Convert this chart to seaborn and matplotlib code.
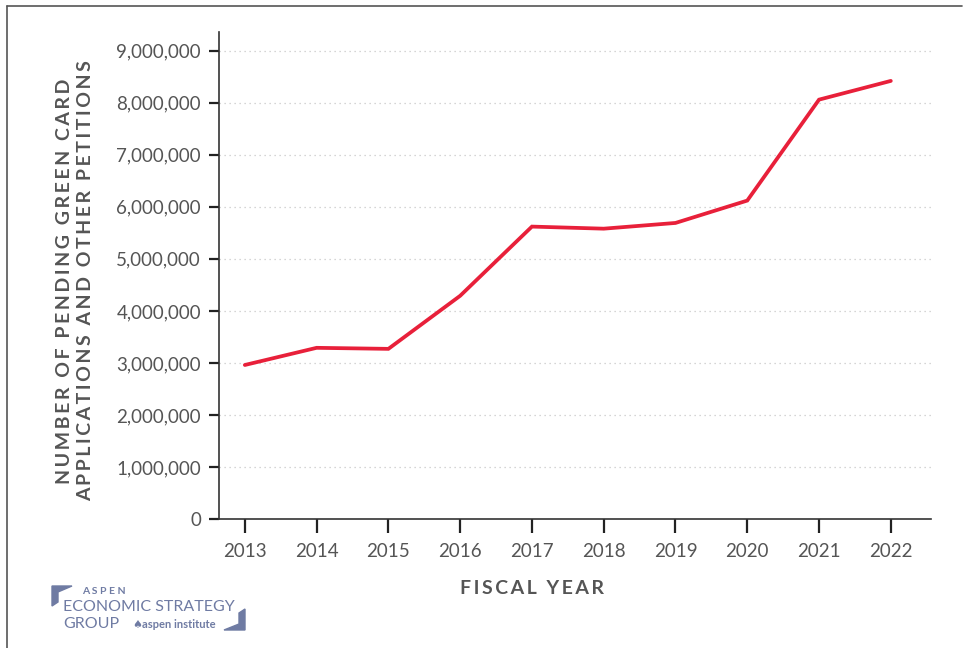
import matplotlib
matplotlib.use("Agg")
import matplotlib.pyplot as plt
import seaborn as sns
import pandas as pd
from matplotlib.ticker import FuncFormatter
from matplotlib.patches import Polygon

years = [2013, 2014, 2015, 2016, 2017, 2018, 2019, 2020, 2021, 2022]
pending = [2960000, 3290000, 3270000, 4290000, 5620000, 5580000, 5690000, 6120000, 8060000, 8420000]
y_ticks = [0, 1000000, 2000000, 3000000, 4000000, 5000000, 6000000, 7000000, 8000000, 9000000]

df = pd.DataFrame({"year": years, "pending": pending})

sns.set_theme(style="white")
plt.rcParams['font.family'] = ['Lato', 'DejaVu Sans']

def spaced(s, sep="\u2009"):
    return sep.join(list(s))

fig = plt.figure(figsize=(9.63, 6.48), dpi=100)
ax = fig.add_axes([219/963, 1-519/648, (931-219)/963, (519-32)/648])

sns.lineplot(data=df, x="year", y="pending", ax=ax, color="#e8203a", linewidth=2.7,
             solid_capstyle="round", solid_joinstyle="miter")

ax.set_xlim(2012.64, 2022.56)
ax.set_ylim(0, 9360000)
ax.set_yticks(y_ticks)
ax.set_xticks(years)
ax.yaxis.set_major_formatter(FuncFormatter(lambda v, p: f"{int(v):,}"))

for t in y_ticks[1:]:
    ax.axhline(t, color="#c8c8c8", linestyle=(0, (1, 3)), linewidth=0.9, zorder=0)

for s in ["top", "right"]:
    ax.spines[s].set_visible(False)
for s in ["left", "bottom"]:
    ax.spines[s].set_color("#333333")
    ax.spines[s].set_linewidth(1.2)

ax.tick_params(axis="y", direction="out", length=7, width=1.6, color="#222222",
               labelsize=13.5, labelcolor="#555555", pad=6, left=True)
ax.tick_params(axis="x", direction="out", length=10, width=1.6, color="#222222",
               labelsize=13.5, labelcolor="#555555", pad=7, bottom=True)

ax.set_xlabel("")
ax.set_ylabel("")
fig.text(532/963, 1-588/648, spaced("FISCAL YEAR"), fontsize=14, fontweight="bold",
         color="#555555", ha="center", va="center")
fig.text(75/963, 1-281/648,
         spaced("NUMBER OF PENDING GREEN CARD") + "\n" + spaced("APPLICATIONS AND OTHER PETITIONS"),
         fontsize=14, fontweight="bold", color="#555555", rotation=90,
         ha="center", va="center", linespacing=1.35, multialignment="center")

# frame around the figure
fig.add_artist(plt.Line2D([7/963, 7/963], [0, 1-6/648], transform=fig.transFigure, color="#555555", lw=1.2))
fig.add_artist(plt.Line2D([7/963, 962/963], [1-6/648, 1-6/648], transform=fig.transFigure, color="#555555", lw=1.2))

# logo
logo_c = "#6f7ba3"
def fx(x): return x/963
def fy(y): return 1-y/648
fig.add_artist(Polygon([(fx(52), fy(586)), (fx(72), fy(586)), (fx(58), fy(592)), (fx(58), fy(602)), (fx(52), fy(606))],
                       closed=True, transform=fig.transFigure, color=logo_c))
fig.add_artist(Polygon([(fx(245), fy(609)), (fx(245), fy(630)), (fx(224), fy(630)), (fx(239), fy(624)), (fx(239), fy(613))],
                       closed=True, transform=fig.transFigure, color=logo_c))
fig.text(fx(82), fy(592), "A S P E N", fontsize=7.5, fontweight="bold", color=logo_c, va="center")
fig.text(fx(63), fy(607), "ECONOMIC STRATEGY", fontsize=11.5, color=logo_c, va="center")
fig.text(fx(63), fy(624), "GROUP", fontsize=11.5, color=logo_c, va="center")
fig.text(fx(132), fy(625), "\u2660", fontsize=8, color=logo_c, va="center", family=['DejaVu Sans'])
fig.text(fx(142), fy(625), "aspen institute", fontsize=8, fontweight="bold", color=logo_c, va="center")

fig.savefig("out.png", dpi=100)
